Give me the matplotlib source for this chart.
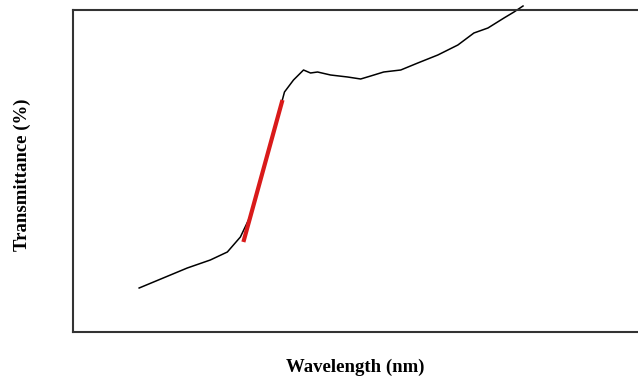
import numpy as np
import matplotlib
matplotlib.use("Agg")
import matplotlib.pyplot as plt

# spectrum (arbitrary units)
wl = [66, 90, 114, 137, 154, 167, 177, 187, 197, 207, 211, 220, 230, 237, 244,
      257, 274, 287, 297, 310, 327, 344, 364, 384, 400, 414, 430, 440, 449]
tr = [44, 54, 64, 72, 80, 95, 116, 152, 188, 225, 240, 252, 262, 259, 260,
      257, 255, 253, 256, 260, 262, 269, 277, 287, 299, 304, 314, 320, 326]

# tangent of the absorption edge
edge_wl = [170, 209]
edge_tr = [90, 232]

fig = plt.figure(figsize=(6.38, 3.79), dpi=100)
ax = fig.add_axes([73/638, 47/379, 1 - 73/638 + 0.002, 322/379])
ax.plot(wl, tr, color="black", lw=1.1, clip_on=False)
ax.plot(edge_wl, edge_tr, color="#d91a1a", lw=3.0, solid_capstyle="butt")
ax.set_xlim(0, 565)
ax.set_ylim(0, 322)
ax.set_xticks([])
ax.set_yticks([])
for s in ax.spines.values():
    s.set_linewidth(1.5)
    s.set_color("#333333")

font = dict(family=["Liberation Serif", "DejaVu Serif"], weight="bold", size=13.5)
fig.text(355/638, 1 - 367/379, "Wavelength (nm)", ha="center", va="center", **font)
fig.text(22/638, 1 - 175/379, "Transmittance (%)", ha="center", va="center",
         rotation=90, **font)

fig.savefig("out.png", dpi=100)
